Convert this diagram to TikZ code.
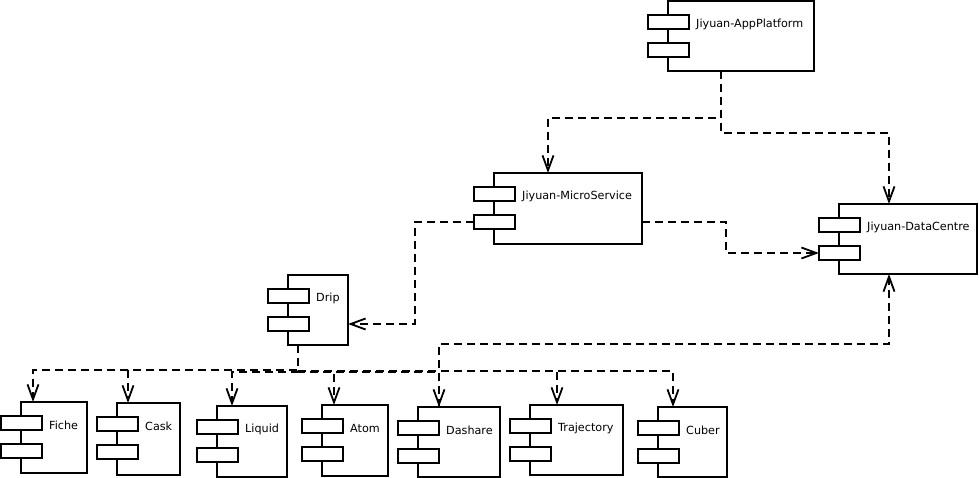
\documentclass[tikz,border=0pt]{standalone}
\usepackage{fontspec}
\setmainfont{DejaVu Sans}
\usetikzlibrary{arrows.meta}
\tikzset{
  compbox/.style={draw=black, line width=1.8pt, fill=white, rectangle, inner sep=0pt, outer sep=0pt, anchor=north west},
  portbox/.style={draw=black, line width=1.8pt, fill=white, rectangle, inner sep=0pt, outer sep=0pt, anchor=north west, minimum width=41pt, minimum height=14pt},
  complabel/.style={anchor=west, inner sep=0pt, font=\fontsize{11.2pt}{13pt}\selectfont},
  dep/.style={line width=1.7pt, dash pattern=on 8pt off 5pt, -{Straight Barb[length=15pt,width=11pt,line width=1.8pt]}}
}
\newcommand\umlcomp[6]{%
  \node[compbox, minimum width={(#4-#2)*1pt}, minimum height={(#5-#3)*1pt}] (#1) at (#2,#3) {};
  \node[portbox] (#1-p1) at (#2-20,#3+14) {};
  \node[portbox] (#1-p2) at (#2-20,#3+42) {};
  \node[complabel] (#1-t) at (#2+28,#3+23) {#6};
}
\begin{document}
\begin{tikzpicture}[x=1pt,y=-1pt]
\useasboundingbox (0,0) rectangle (979,478);
\umlcomp{app}{668}{1}{814}{71}{Jiyuan-AppPlatform}
\umlcomp{ms}{494}{173}{642}{244}{Jiyuan-MicroService}
\umlcomp{dc}{839}{204}{977}{274}{Jiyuan-DataCentre}
\umlcomp{drip}{288}{275}{348}{345}{Drip}
\umlcomp{fiche}{21}{402}{87}{473}{Fiche}
\umlcomp{cask}{117}{403}{180}{475}{Cask}
\umlcomp{liquid}{217}{406}{287}{477}{Liquid}
\umlcomp{atom}{322}{405}{388}{476}{Atom}
\umlcomp{dashare}{418}{407}{500}{477}{Dashare}
\umlcomp{traj}{530}{405}{623}{475}{Trajectory}
\umlcomp{cuber}{658}{407}{727}{477}{Cuber}

\coordinate (a1) at ([xshift=53pt]app.south west);
\draw[dep] (a1) -- ++(0,47) -| ([xshift=54pt]ms.north west);
\draw[dep] (a1) -- ++(0,62) -| ([xshift=50pt]dc.north west);
\draw[dep] (ms.east |- ms-p2.center) -- ++(84,0) |- (dc-p2.west);
\draw[dep] (ms-p2.west) -- ++(-59,0) |- ([yshift=-49pt]drip.north east);

\coordinate (d1) at ([xshift=10pt]drip.south west);
\draw[dep] (d1) -- ++(0,25) -| ([xshift=12pt]fiche.north west);
\draw[dep] (d1) -- ++(0,25) -| ([xshift=11pt]cask.north west);
\draw[dep] (d1) -- ++(0,27) -| ([xshift=15pt]liquid.north west);
\draw[dep] (d1) -- ++(0,27) -| ([xshift=12pt]atom.north west);
\draw[dep] (d1) -- ++(0,27) -| ([xshift=21pt]dashare.north west);
\draw[dep] (d1) -- ++(0,26) -| ([xshift=27pt]traj.north west);
\draw[dep] (d1) -- ++(0,26) -| ([xshift=15pt]cuber.north west);

\draw[dep] ([xshift=21pt]dashare.north west) -- ++(0,-63) -| ([xshift=50pt]dc.south west);
\end{tikzpicture}
\end{document}
